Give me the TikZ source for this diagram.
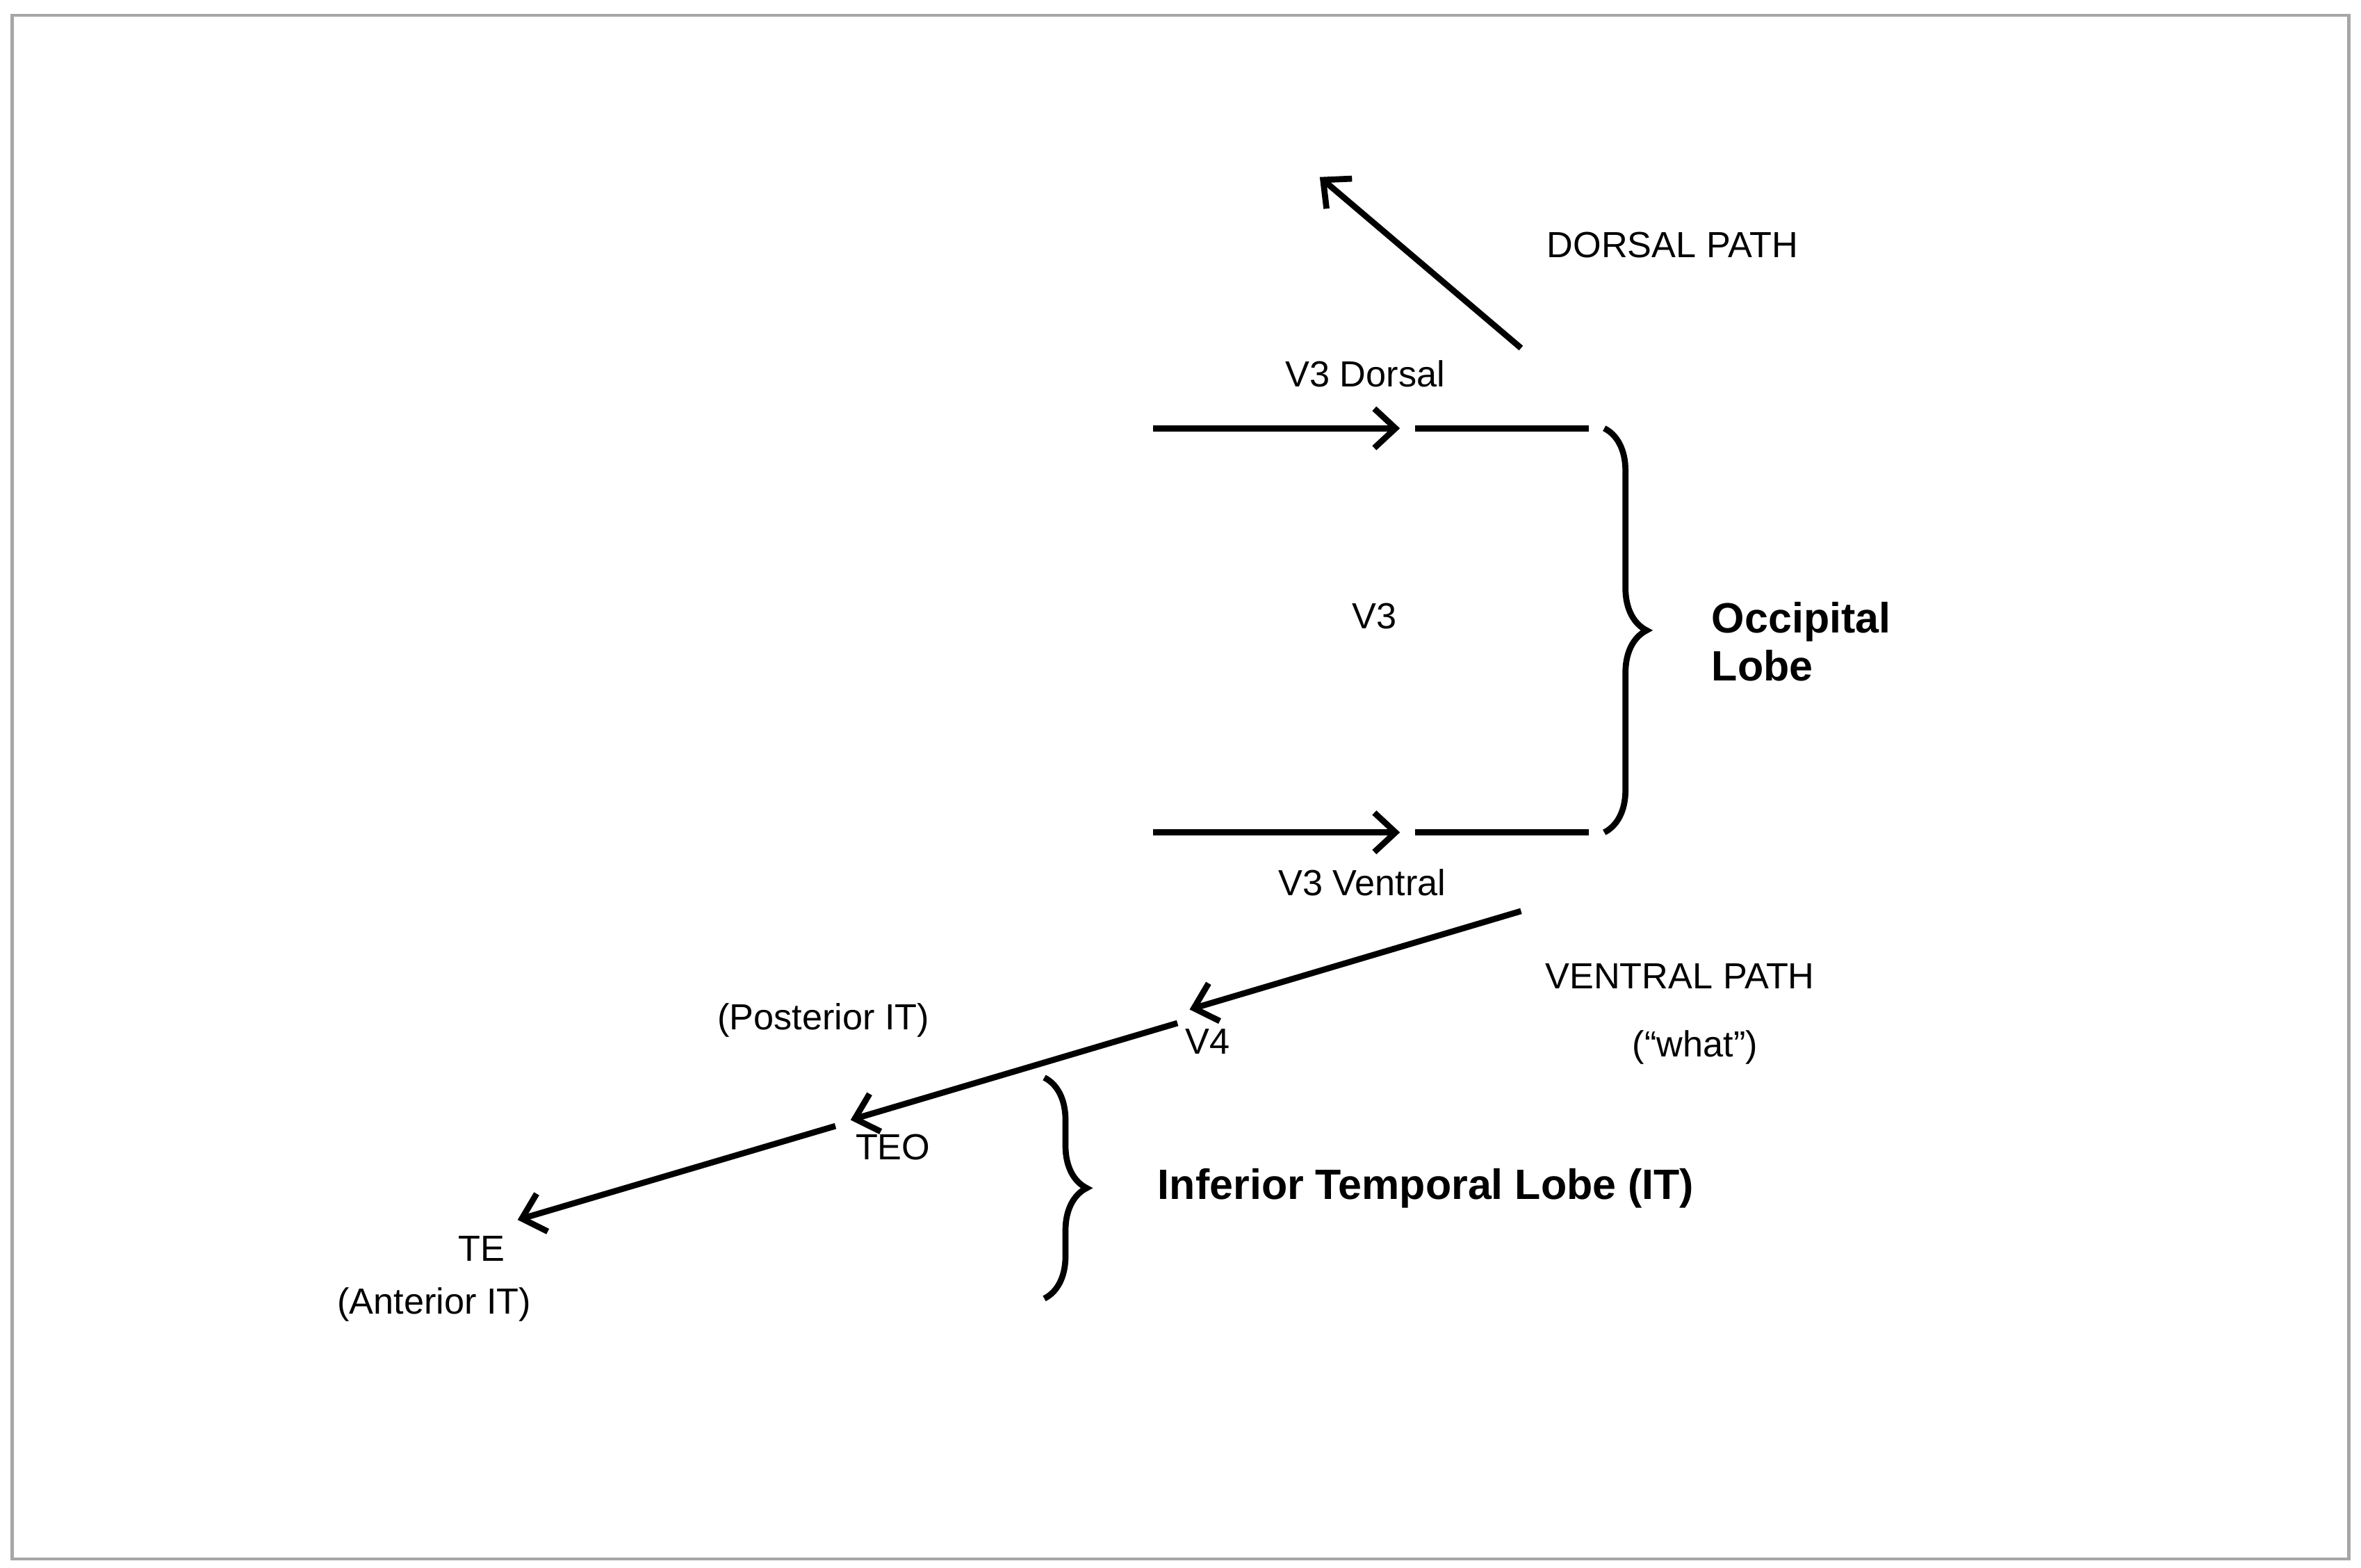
\documentclass[tikz,border=0pt]{standalone}
\usepackage{fontspec}
\setmainfont{Liberation Sans}
\usetikzlibrary{arrows.meta,decorations.pathreplacing}
\begin{document}
\begin{tikzpicture}[x=0.5pt,y=-0.5pt,
  ln/.style={line width=2pt},
  ar/.style={ln,-{Straight Barb[length=7pt,width=13pt,line width=2pt]}},
  lab/.style={font=\fontsize{12}{14}\selectfont},
  big/.style={font=\fontsize{14}{16}\selectfont\bfseries},
  br/.style={ln,decorate,decoration={brace,amplitude=14pt}}]
\useasboundingbox (0,0) rectangle (1560,1036);
\draw[gray!70,line width=1pt] (8,10) rectangle (1552,1030);
% coordinates
\coordinate (d0) at (1005,230); \coordinate (d1) at (872,117);
\coordinate (a0) at (762,283); \coordinate (a1) at (925,283);
\coordinate (l0) at (935,283); \coordinate (l1) at (1050,283);
\coordinate (b0) at (762,550); \coordinate (b1) at (925,550);
\coordinate (m0) at (935,550); \coordinate (m1) at (1050,550);
\coordinate (ob0) at (1060,283); \coordinate (ob1) at (1060,550);
\coordinate (v0) at (1005,602); \coordinate (v1) at (786,667);
\coordinate (t0) at (778,676); \coordinate (t1) at (562,740);
\coordinate (e0) at (552,744); \coordinate (e1) at (342,806);
\coordinate (ib0) at (690,712); \coordinate (ib1) at (690,858);
% connectors
\draw[ar] (d0) -- (d1);
\draw[ar] (a0) -- (a1); \draw[ln] (l0) -- (l1);
\draw[ar] (b0) -- (b1); \draw[ln] (m0) -- (m1);
\draw[ar] (v0) -- (v1);
\draw[ar] (t0) -- (t1);
\draw[ar] (e0) -- (e1);
\draw[br] (ob0) -- (ob1);
\draw[br,decoration={amplitude=14pt}] (ib0) -- (ib1);
% labels
\node[lab] (dp) at (1105,162) {DORSAL PATH};
\node[lab] (v3d) at (902,247) {V3 Dorsal};
\node[lab] (v3) at (908,407) {V3};
\node[lab] (v3v) at (900,583) {V3 Ventral};
\node[big,anchor=west,align=left] (occ) at (1124,424) {Occipital\\Lobe};
\node[lab] (vp) at (1110,645) {VENTRAL PATH};
\node[lab] (what) at (1120,692) {(“what”)};
\node[lab] (v4) at (798,688) {V4};
\node[lab] (pit) at (544,674) {(Posterior IT)};
\node[lab] (teo) at (590,758) {TEO};
\node[lab] (te) at (318,825) {TE};
\node[lab] (ait) at (287,862) {(Anterior IT)};
\node[big,anchor=west] (itl) at (758,785) {Inferior Temporal Lobe (IT)};
\end{tikzpicture}
\end{document}
